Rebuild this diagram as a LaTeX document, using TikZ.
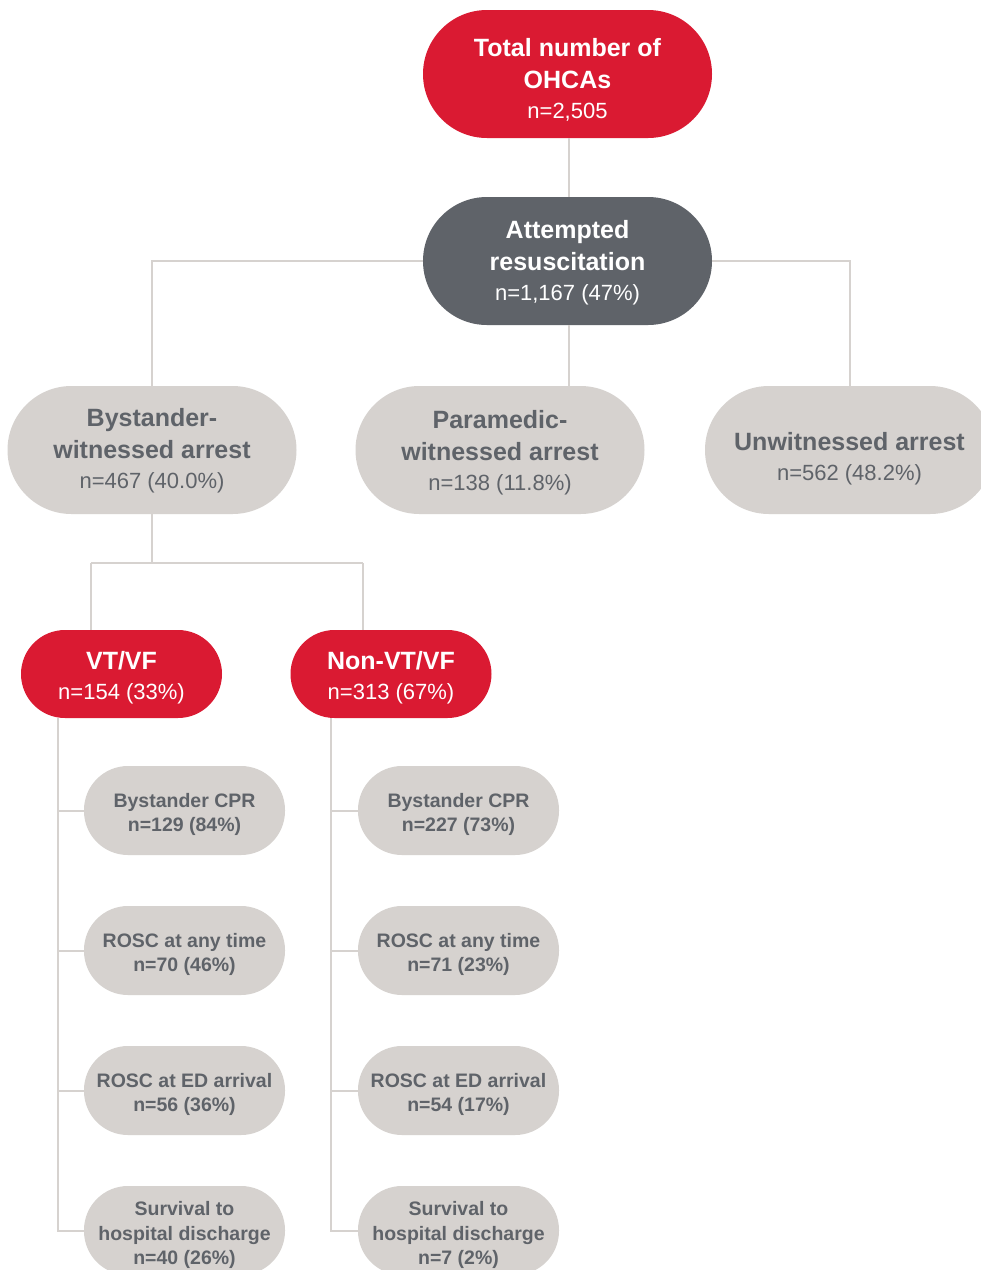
\documentclass[tikz,border=0pt]{standalone}
\usepackage{fontspec}
\setmainfont{Liberation Sans}
\definecolor{hfred}{HTML}{DA1A32}
\definecolor{hfdark}{HTML}{5F6369}
\definecolor{hflight}{HTML}{D6D2CF}
\definecolor{hftext}{HTML}{5F6369}
\newcommand\tpush[1]{\rule{0pt}{#1pt}}
\begin{document}
\begin{tikzpicture}[x=1pt,y=-1pt,
  pill/.style={rectangle, rounded corners=#1, inner sep=0pt, align=center},
  bigred/.style={pill=64pt, fill=hfred, text=white, minimum width=289pt, minimum height=128pt, font=\fontsize{25}{32}\selectfont},
  bigdark/.style={pill=64pt, fill=hfdark, text=white, minimum width=289pt, minimum height=128pt, font=\fontsize{25}{32}\selectfont},
  biggrey/.style={pill=64pt, fill=hflight, text=hftext, minimum width=289pt, minimum height=128pt, font=\fontsize{25}{32}\selectfont},
  midred/.style={pill=44pt, fill=hfred, text=white, minimum width=201pt, minimum height=88pt, font=\fontsize{25}{30}\selectfont},
  smallgrey/.style={pill=44pt, fill=hflight, text=hftext, minimum width=201pt, minimum height=89pt, font=\fontsize{19.5}{24.5}\selectfont\bfseries},
  link/.style={draw=hflight, line width=2pt}
]
\useasboundingbox (0,0) rectangle (981,1270);
\fill[white] (0,0) rectangle (981,1270);

% top
\node[bigred] (tot) at (567.5,74) {\tpush{29.5}\textbf{Total number of}\\\textbf{OHCAs}\\[-2pt]{\fontsize{22}{30}\selectfont n=2,505}};
\node[bigdark] (att) at (567.5,261) {\tpush{22.5}\textbf{Attempted}\\\textbf{resuscitation}\\[-2pt]{\fontsize{22}{30}\selectfont n=1,167 (47\%)}};

% second level
\node[biggrey] (bys) at (152,450) {\tpush{19}\textbf{Bystander-}\\\textbf{witnessed arrest}\\[-2pt]{\fontsize{22}{30}\selectfont n=467 (40.0\%)}};
\node[biggrey] (par) at (500,450) {\tpush{24.5}\textbf{Paramedic-}\\\textbf{witnessed arrest}\\[-2pt]{\fontsize{22}{30}\selectfont n=138 (11.8\%)}};
\node[biggrey] (unw) at (849.5,450) {\tpush{36.5}\textbf{Unwitnessed arrest}\\[-2pt]{\fontsize{22}{30}\selectfont n=562 (48.2\%)}};

% rhythm
\node[midred] (vt) at (121.5,674) {\tpush{26.5}\textbf{VT/VF}\\{\fontsize{22}{30}\selectfont n=154 (33\%)}};
\node[midred] (non) at (391,674) {\tpush{26.5}\textbf{Non-VT/VF}\\{\fontsize{22}{30}\selectfont n=313 (67\%)}};

% left column
\node[smallgrey] (l1) at (184.5,810.5) {\tpush{22.5}Bystander CPR\\n=129 (84\%)};
\node[smallgrey] (l2) at (184.5,950.5) {\tpush{22.5}ROSC at any time\\n=70 (46\%)};
\node[smallgrey] (l3) at (184.5,1090.5) {\tpush{22.5}ROSC at ED arrival\\n=56 (36\%)};
\node[smallgrey] (l4) at (184.5,1230.5) {\tpush{23.5}Survival to\\hospital discharge\\n=40 (26\%)};

% right column
\node[smallgrey] (r1) at (458.5,810.5) {\tpush{22.5}Bystander CPR\\n=227 (73\%)};
\node[smallgrey] (r2) at (458.5,950.5) {\tpush{22.5}ROSC at any time\\n=71 (23\%)};
\node[smallgrey] (r3) at (458.5,1090.5) {\tpush{22.5}ROSC at ED arrival\\n=54 (17\%)};
\node[smallgrey] (r4) at (458.5,1230.5) {\tpush{23.5}Survival to\\hospital discharge\\n=7 (2\%)};

% helper coordinates
\coordinate (tx) at (569,0);
\coordinate (jl) at (91,563);
\coordinate (jr) at (363,563);
\coordinate (spl) at (58,0);
\coordinate (spr) at (331,0);

% connectors
\path[link] (tot.south -| tx) -- (att.north -| tx);
\path[link] (att.west) -| (bys.north);
\path[link] (att.east) -| (unw.north);
\path[link] (att.south -| tx) -- (par.north -| tx);
\path[link] (bys.south) -- (bys.south |- jl);
\path[link] (jl) -- (jr);
\path[link] (jl) -- (jl |- vt.north);
\path[link] (jr) -- (jr |- non.north);
\path[link] (vt.south -| spl) |- (l4.west);
\path[link] (vt.south -| spl) |- (l1.west);
\path[link] (vt.south -| spl) |- (l2.west);
\path[link] (vt.south -| spl) |- (l3.west);
\path[link] (non.south -| spr) |- (r4.west);
\path[link] (non.south -| spr) |- (r1.west);
\path[link] (non.south -| spr) |- (r2.west);
\path[link] (non.south -| spr) |- (r3.west);
\end{tikzpicture}
\end{document}
